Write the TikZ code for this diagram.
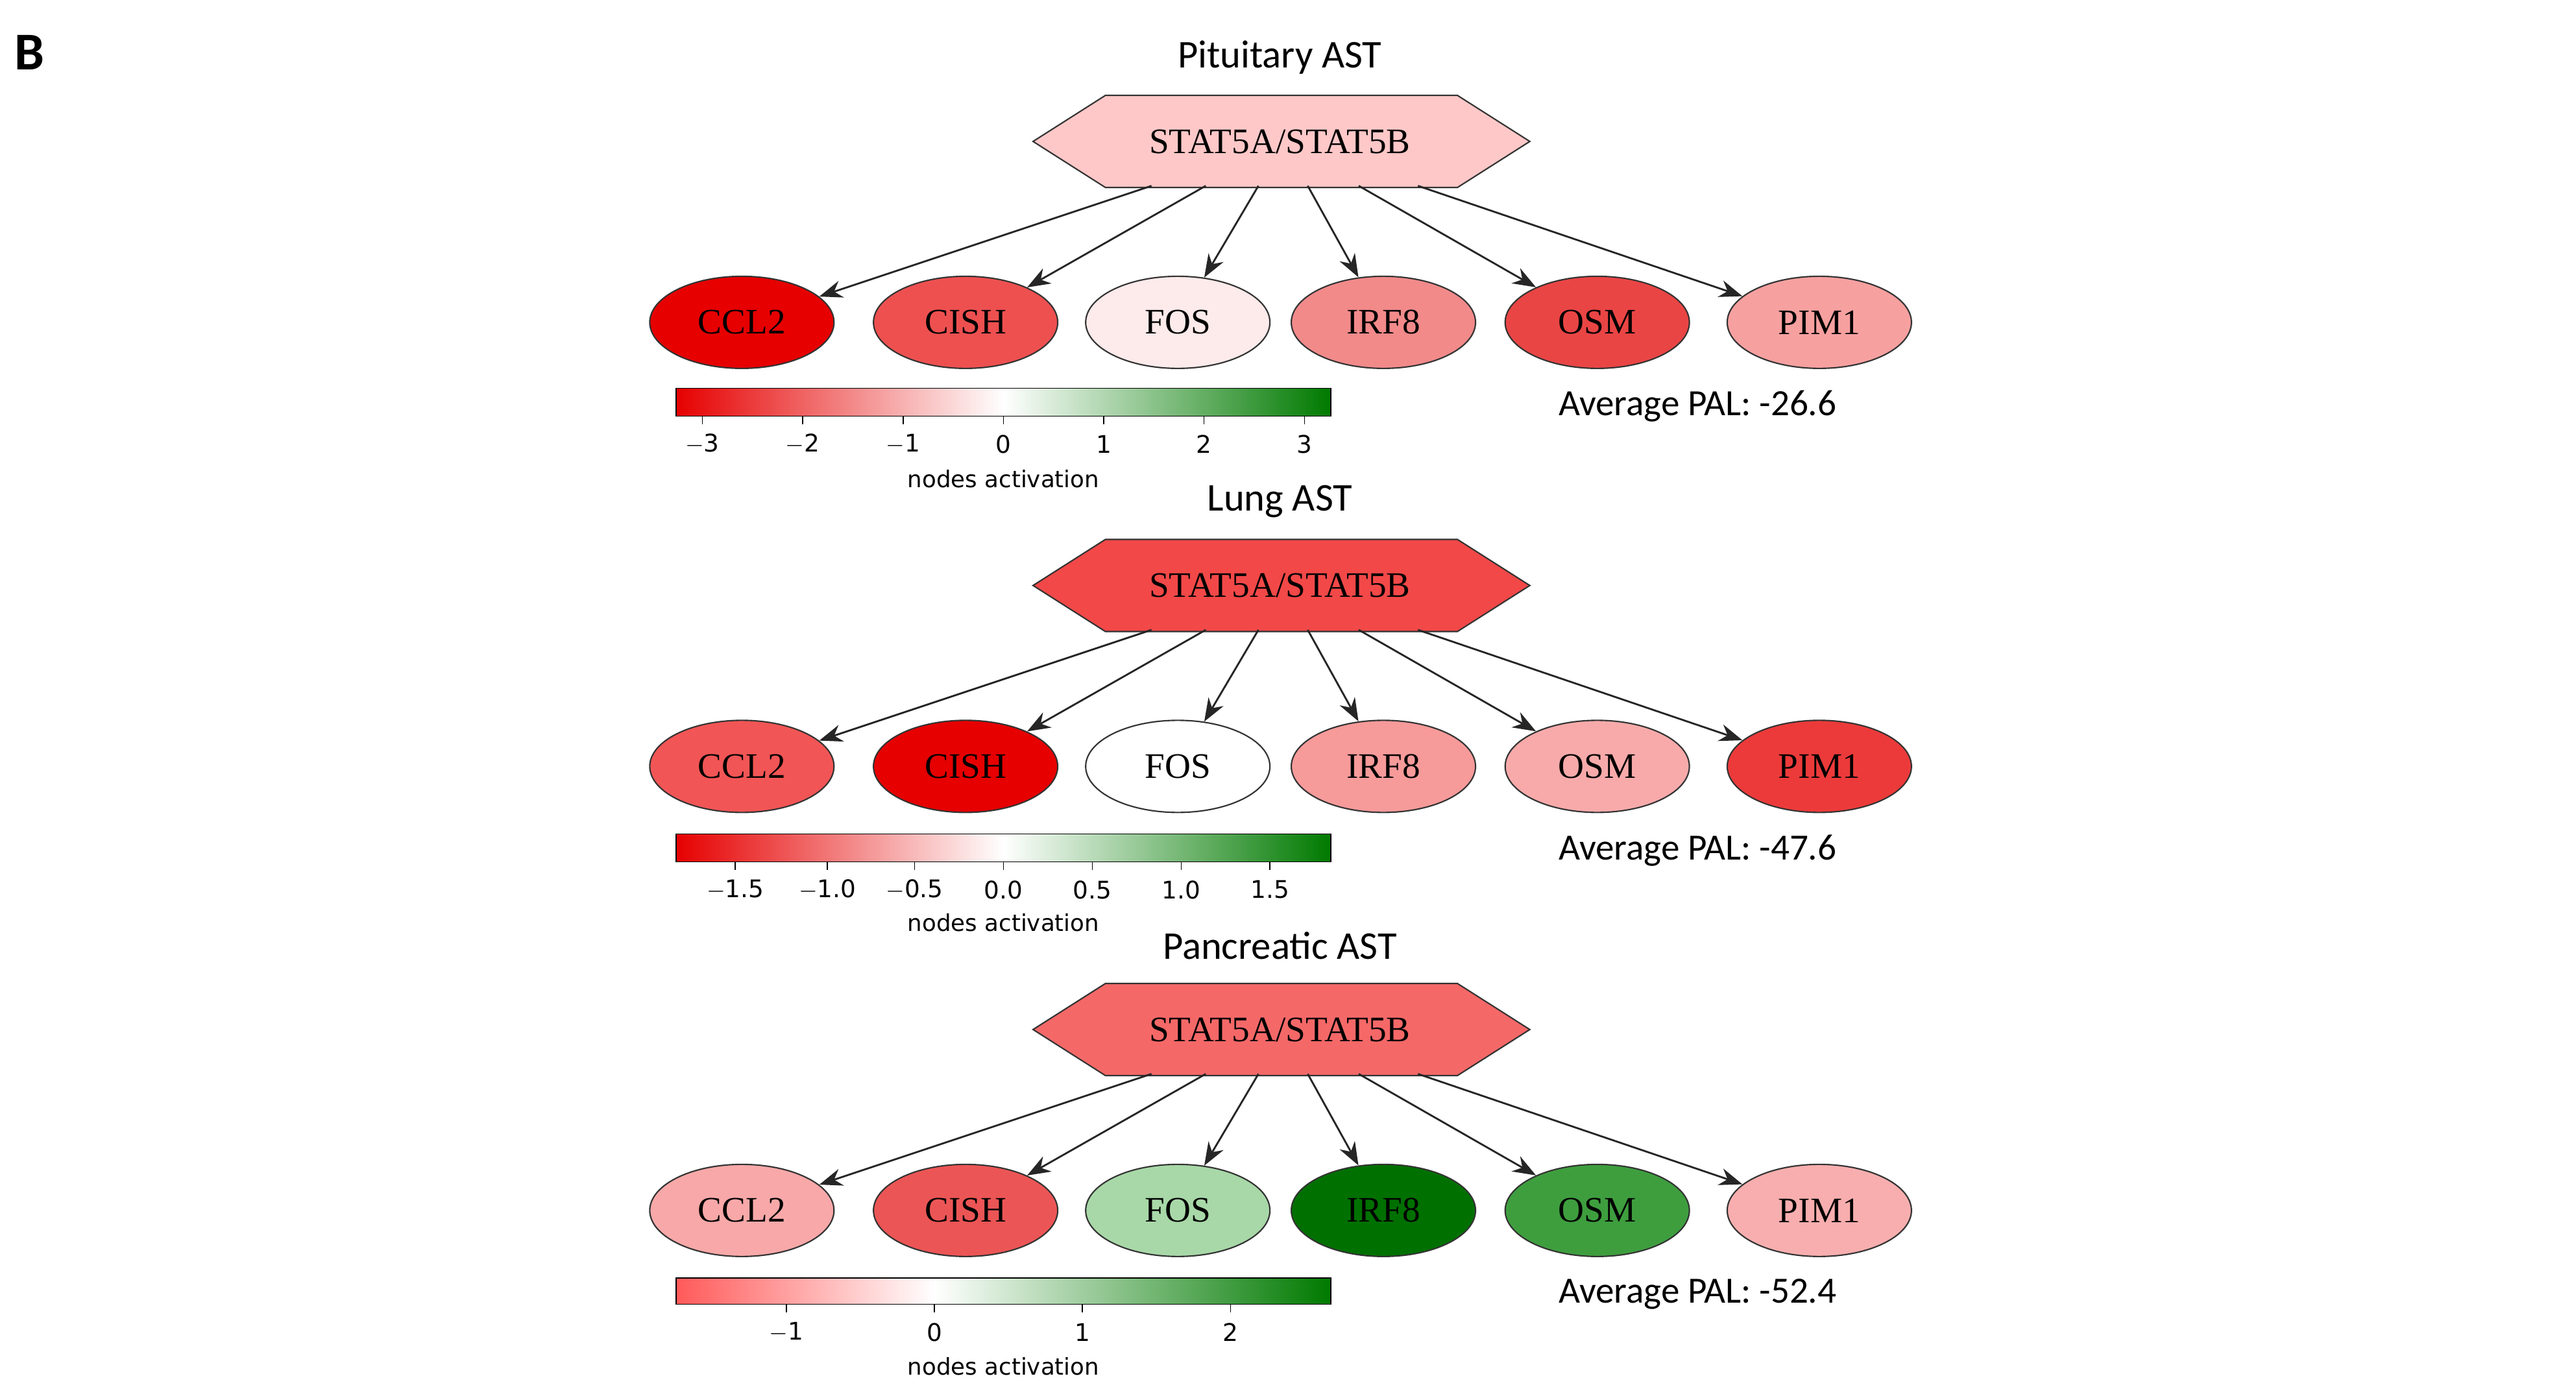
\documentclass[tikz,border=0pt]{standalone}
\usepackage{fontspec}
\setmainfont{Liberation Serif}
\newfontfamily\calfnt{Carlito}
\newfontfamily\dvfnt{DejaVu Sans}
\usetikzlibrary{arrows.meta,shapes.geometric}
\definecolor{rA}{HTML}{E60000}
\definecolor{gA}{HTML}{007A00}
\begin{document}
\begin{tikzpicture}[x=0.05cm,y=-0.05cm,
  gene/.style={ellipse,draw=black!80,line width=1.2pt,minimum width=112*0.05cm,minimum height=56*0.05cm,inner sep=0pt,font=\fontsize{31}{31}\selectfont},
  hexl/.style={draw=black!80,line width=1.2pt},
  edge/.style={-{Stealth[length=20pt,width=15pt]},line width=1.6pt,black!85},
  title/.style={font=\calfnt\fontsize{34}{34}\selectfont},
  pal/.style={font=\calfnt\fontsize{32}{32}\selectfont},
  tick/.style={font=\dvfnt\fontsize{21}{21}\selectfont},
  lab/.style={font=\dvfnt\fontsize{20}{20}\selectfont}]
\useasboundingbox (0,0) rectangle (1566,850);
\node[font=\calfnt\bfseries\fontsize{46}{46}\selectfont] (B) at (18,32) {B};
% panels
\foreach \p/\dy/\hc/\t/\pal/\ca/\cb/\cc/\cd/\ce/\cf in {
  1/0/FFC8C8/Pituitary AST/-26.6/E60000/EE5050/FDEAEA/F28A8A/EA4545/F7A0A0,
  2/270/F24848/Lung AST/-47.6/F25555/E60000/FFFFFF/F79A9A/F8AAAA/EC3A3A,
  3/540/F56868/Pancreatic AST/-52.4/F8A8A8/EC5555/A8D8A8/007000/3E9E3E/F8AEAE}{
  \begin{scope}[yshift=-\dy*0.05cm]
    \definecolor{hc}{HTML}{\hc}
    \node[title] (t\p) at (778,35) {\t};
    \filldraw[hexl,fill=hc] (628,86) -- (672,58) -- (886,58) -- (930,86) -- (886,114) -- (672,114) -- cycle;
    \node[font=\fontsize{31}{31}\selectfont] (h\p) at (778,86) {STAT5A/STAT5B};
    \foreach \n/\x/\c/\s in {CCL2/451/\ca/700,CISH/587/\cb/733,FOS/716/\cc/765,IRF8/841/\cd/795,OSM/971/\ce/826,PIM1/1106/\cf/862}{
      \definecolor{gc}{HTML}{\c}
      \node[gene,fill=gc] (\n\p) at (\x,196) {\n};
      \coordinate (s\n\p) at (\s,113);
      \draw[edge] (s\n\p) -- (\n\p);
    }
    \node[pal,anchor=west] (pal\p) at (945,247) {Average PAL: \pal};
    \node[lab] (na\p) at (610,291) {nodes activation};
  \end{scope}}
% colorbars
\shade[left color=rA,right color=white] (411,236) rectangle (610,253);
\shade[left color=white,right color=gA] (610,236) rectangle (809,253);
\draw[line width=0.8pt] (411,236) rectangle (809,253);
\foreach \v/\x in {$-$3/427,$-$2/488,$-$1/549,0/610,1/671,2/732,3/793}{
  \draw[line width=0.8pt] (\x,253) -- (\x,258);
  \node[tick] at (\x,270) {\v};}
\shade[left color=rA,right color=white] (411,507) rectangle (610,524);
\shade[left color=white,right color=gA] (610,507) rectangle (809,524);
\draw[line width=0.8pt] (411,507) rectangle (809,524);
\foreach \v/\x in {$-$1.5/447,$-$1.0/503,$-$0.5/556,0.0/610,0.5/664,1.0/718,1.5/772}{
  \draw[line width=0.8pt] (\x,524) -- (\x,529);
  \node[tick] at (\x,541) {\v};}
\shade[left color=red!65,right color=white] (411,777) rectangle (568,793);
\shade[left color=white,right color=gA] (568,777) rectangle (809,793);
\draw[line width=0.8pt] (411,777) rectangle (809,793);
\foreach \v/\x in {$-$1/478,0/568,1/658,2/748}{
  \draw[line width=0.8pt] (\x,793) -- (\x,798);
  \node[tick] at (\x,810) {\v};}
\end{tikzpicture}
\end{document}
